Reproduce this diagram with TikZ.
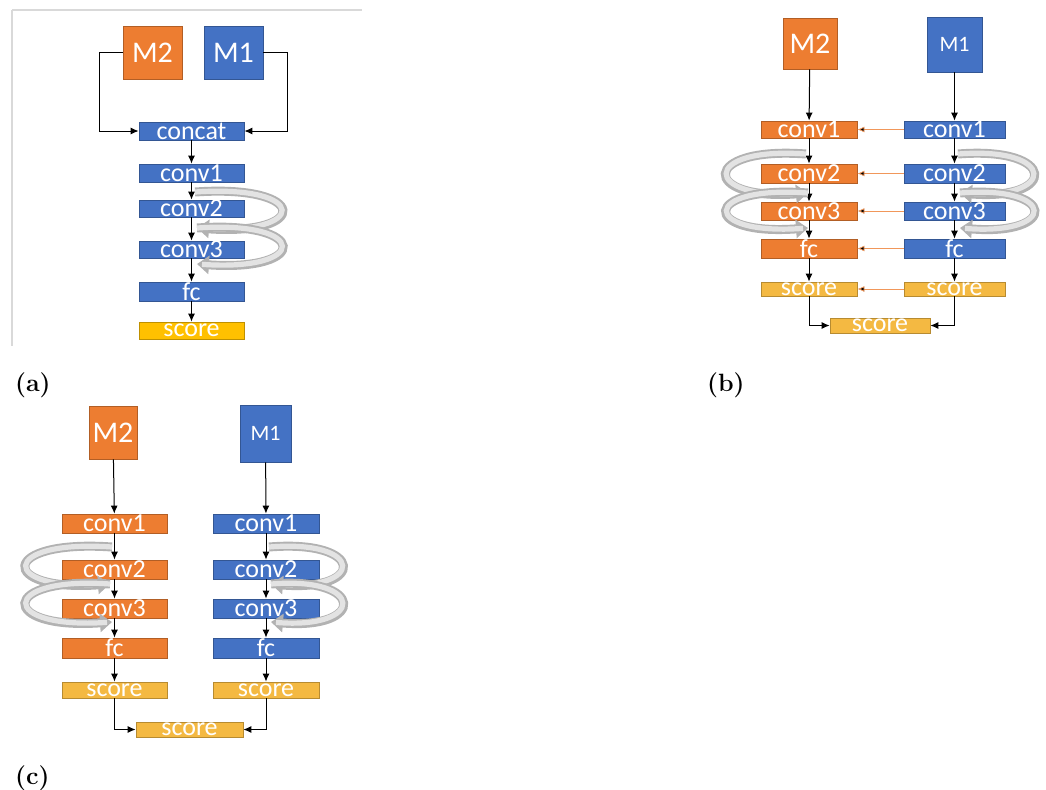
\documentclass[tikz,border=0pt]{standalone}
\usepackage{fontspec}
\setsansfont{Carlito}
\usetikzlibrary{arrows.meta}

\definecolor{mblue}{HTML}{4472C4}
\definecolor{morange}{HTML}{ED7D31}
\definecolor{mgold}{HTML}{FFC000}
\definecolor{myellow}{HTML}{F4B942}

\tikzset{
  blk/.style={draw=#1!75!black, fill=#1, text=white, inner sep=0pt,
    font=\sffamily\fontsize{13}{13}\selectfont},
  mbox/.style={blk=#1, font=\sffamily\fontsize{15}{15}\selectfont},
  link/.style={-{Latex[length=4pt,width=3.5pt]}, line width=0.5pt},
  mix/.style={-{Latex[length=3.5pt,width=3pt]}, draw=morange!80, line width=0.4pt},
  loopo/.style={draw=gray!60, line width=4.5pt, -{Triangle[length=6pt,width=9pt]}},
  loopi/.style={draw=gray!22, line width=2.6pt, shorten >=2.5pt},
  tag/.style={anchor=west, font=\rmfamily\bfseries\fontsize{12.5}{12.5}\selectfont}
}

\begin{document}
\begin{tikzpicture}[x=0.5pt, y=-0.5pt]
    \useasboundingbox (0,0) rectangle (1046,789);

    % (a)
    \draw[gray!30, line width=0.6pt] (12,10) -- (362,10);
    \draw[gray!30, line width=0.6pt] (12,10) -- (12,346);
    \node[mbox=morange, minimum width=29.5pt, minimum height=26.5pt] at (152.5,52.5) (aM2) {M2};
    \node[mbox=mblue, minimum width=29.5pt, minimum height=26.5pt] at (233.5,52.5) (aM1) {M1};
    \node[blk=mblue, minimum width=52.5pt, minimum height=9pt] at (191.5,131) (acat) {concat};
    \node[blk=mblue, minimum width=52.5pt, minimum height=9pt] at (191.5,173) (ac1) {conv1};
    \node[blk=mblue, minimum width=52.5pt, minimum height=8.5pt] at (191.5,208.5) (ac2) {conv2};
    \node[blk=mblue, minimum width=52.5pt, minimum height=8.5pt] at (191.5,249.5) (ac3) {conv3};
    \node[blk=mblue, minimum width=52.5pt, minimum height=9.5pt] at (191.5,291.5) (afc) {fc};
    \node[blk=mgold, minimum width=52.5pt, minimum height=8.5pt] at (191.5,330.5) (asc) {score};
    \draw[link] (aM2.west) -- ++(-23,0) |- (acat.west);
    \draw[link] (aM1.east) -- ++(24,0) |- (acat.east);
    \path[link] (acat) edge (ac1) (ac1) edge (ac2) (ac2) edge (ac3) (ac3) edge (afc) (afc) edge (asc);
    \coordinate (aA) at (195,192);
    \coordinate (aB) at (197,228);
    \coordinate (aC) at (197,264);
    \draw[loopo] (aA) .. controls (310,184) and (310,236) .. (aB);
    \draw[loopi] (aA) .. controls (310,184) and (310,236) .. (aB);
    \draw[loopo] (aB) .. controls (310,220) and (310,272) .. (aC);
    \draw[loopi] (aB) .. controls (310,220) and (310,272) .. (aC);
    \node[tag] at (8,385) (la) {(a)};

    % (b)
    \node[mbox=morange, minimum width=27pt, minimum height=25.5pt] at (810,43.5) (bM2) {M2};
    \node[mbox=mblue, minimum width=27.5pt, minimum height=27.5pt, font=\sffamily\fontsize{11}{11}\selectfont] at (954.5,44.5) (bM1) {M1};
    \node[blk=morange, minimum width=48pt, minimum height=8.5pt] at (809,129.5) (bl1) {conv1};
    \node[blk=morange, minimum width=48pt, minimum height=9.5pt] at (809,173.5) (bl2) {conv2};
    \node[blk=morange, minimum width=48pt, minimum height=9pt] at (809,211) (bl3) {conv3};
    \node[blk=morange, minimum width=48pt, minimum height=9.5pt] at (809,248.5) (bl4) {fc};
    \node[blk=myellow, minimum width=48pt, minimum height=7pt] at (809,289) (bl5) {score};
    \node[blk=mblue, minimum width=50.5pt, minimum height=8.5pt] at (954.5,129.5) (br1) {conv1};
    \node[blk=mblue, minimum width=50.5pt, minimum height=9.5pt] at (954.5,173.5) (br2) {conv2};
    \node[blk=mblue, minimum width=50.5pt, minimum height=9pt] at (954.5,211) (br3) {conv3};
    \node[blk=mblue, minimum width=50.5pt, minimum height=9.5pt] at (954.5,248.5) (br4) {fc};
    \node[blk=myellow, minimum width=50.5pt, minimum height=7pt] at (954.5,289) (br5) {score};
    \node[blk=myellow, minimum width=50pt, minimum height=7.5pt] at (880,325.5) (bsc) {score};
    \path[link] (bM2) edge (bl1) (bl1) edge (bl2) (bl2) edge (bl3) (bl3) edge (bl4) (bl4) edge (bl5);
    \path[link] (bM1) edge (br1) (br1) edge (br2) (br2) edge (br3) (br3) edge (br4) (br4) edge (br5);
    \path[mix] (br1) edge (bl1) (br2) edge (bl2) (br3) edge (bl3) (br4) edge (bl4) (br5) edge (bl5);
    \draw[link] (bl5.south) |- (bsc.west);
    \draw[link] (br5.south) |- (bsc.east);
    \coordinate (bA) at (806,154);
    \coordinate (bB) at (808,193);
    \coordinate (bC) at (808,228);
    \draw[loopo] (bA) .. controls (700,146) and (700,201) .. (bB);
    \draw[loopi] (bA) .. controls (700,146) and (700,201) .. (bB);
    \draw[loopo] (bB) .. controls (700,185) and (700,236) .. (bC);
    \draw[loopi] (bB) .. controls (700,185) and (700,236) .. (bC);
    \coordinate (bD) at (958,154);
    \coordinate (bE) at (960,193);
    \coordinate (bF) at (960,228);
    \draw[loopo] (bD) .. controls (1058,146) and (1058,201) .. (bE);
    \draw[loopi] (bD) .. controls (1058,146) and (1058,201) .. (bE);
    \draw[loopo] (bE) .. controls (1058,185) and (1058,236) .. (bF);
    \draw[loopi] (bE) .. controls (1058,185) and (1058,236) .. (bF);
    \node[tag] at (700,385) (lb) {(b)};

    % (c)
    \node[mbox=morange, minimum width=24pt, minimum height=26.5pt] at (113,432.5) (cM2) {M2};
    \node[mbox=mblue, minimum width=25.5pt, minimum height=28.5pt, font=\sffamily\fontsize{11}{11}\selectfont] at (265.5,433.5) (cM1) {M1};
    \node[blk=morange, minimum width=52.5pt, minimum height=9.5pt] at (114.5,523.5) (cl1) {conv1};
    \node[blk=morange, minimum width=52.5pt, minimum height=9.5pt] at (114.5,569.5) (cl2) {conv2};
    \node[blk=morange, minimum width=52.5pt, minimum height=9.5pt] at (114.5,608.5) (cl3) {conv3};
    \node[blk=morange, minimum width=52.5pt, minimum height=10pt] at (114.5,648) (cl4) {fc};
    \node[blk=myellow, minimum width=52.5pt, minimum height=8pt] at (114.5,690) (cl5) {score};
    \node[blk=mblue, minimum width=53pt, minimum height=9.5pt] at (266,523.5) (cr1) {conv1};
    \node[blk=mblue, minimum width=53pt, minimum height=9.5pt] at (266,569.5) (cr2) {conv2};
    \node[blk=mblue, minimum width=53pt, minimum height=9.5pt] at (266,608.5) (cr3) {conv3};
    \node[blk=mblue, minimum width=53pt, minimum height=10pt] at (266,648) (cr4) {fc};
    \node[blk=myellow, minimum width=53pt, minimum height=8pt] at (266,690) (cr5) {score};
    \node[blk=myellow, minimum width=53.5pt, minimum height=7.5pt] at (189.5,729.5) (csc) {score};
    \path[link] (cM2) edge (cl1) (cl1) edge (cl2) (cl2) edge (cl3) (cl3) edge (cl4) (cl4) edge (cl5);
    \path[link] (cM1) edge (cr1) (cr1) edge (cr2) (cr2) edge (cr3) (cr3) edge (cr4) (cr4) edge (cr5);
    \draw[link] (cl5.south) |- (csc.west);
    \draw[link] (cr5.south) |- (csc.east);
    \coordinate (cA) at (112,547);
    \coordinate (cB) at (110,584);
    \coordinate (cC) at (112,622);
    \draw[loopo] (cA) .. controls (-2,539) and (-2,592) .. (cB);
    \draw[loopi] (cA) .. controls (-2,539) and (-2,592) .. (cB);
    \draw[loopo] (cB) .. controls (-2,576) and (-2,630) .. (cC);
    \draw[loopi] (cB) .. controls (-2,576) and (-2,630) .. (cC);
    \coordinate (cD) at (269,547);
    \coordinate (cE) at (271,584);
    \coordinate (cF) at (271,622);
    \draw[loopo] (cD) .. controls (366,539) and (366,592) .. (cE);
    \draw[loopi] (cD) .. controls (366,539) and (366,592) .. (cE);
    \draw[loopo] (cE) .. controls (366,576) and (366,630) .. (cF);
    \draw[loopi] (cE) .. controls (366,576) and (366,630) .. (cF);
    \node[tag] at (8,778) (lc) {(c)};
\end{tikzpicture}
\end{document}
